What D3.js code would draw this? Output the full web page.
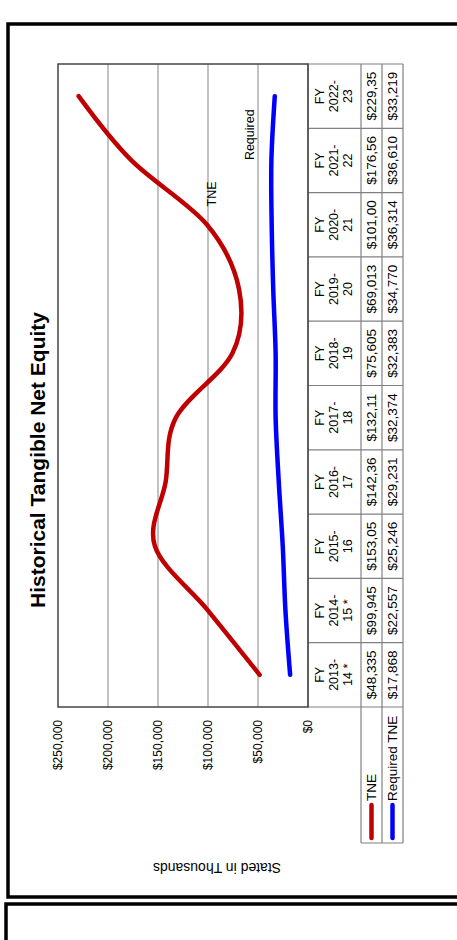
<!DOCTYPE html>
<html>
<head>
<meta charset="utf-8">
<script src="https://cdn.jsdelivr.net/npm/d3@7"></script>
<style>
  body { margin: 0; background: #fff; }
  svg { display: block; font-family: "Liberation Sans", Arial, sans-serif; }
</style>
</head>
<body>
<script>
// Fiscal years (header lines separated by \n)
const categories = [
  "FY\n2013-\n14 *", "FY\n2014-\n15 *", "FY\n2015-\n16", "FY\n2016-\n17", "FY\n2017-\n18",
  "FY\n2018-\n19", "FY\n2019-\n20", "FY\n2020-\n21", "FY\n2021-\n22", "FY\n2022-\n23"
];
// Stated in thousands
const tneValues = [48335, 99945, 153050, 142360, 132110, 75605, 69013, 101000, 176560, 229350];
const requiredValues = [17868, 22557, 25246, 29231, 32374, 32383, 34770, 36314, 36610, 33219];
const yTicks = [0, 50000, 100000, 150000, 200000, 250000];
const seriesNames = ["TNE", "Required TNE"];
const seriesLabels = ["TNE", "Required"];
const seriesColors = ["#c00000", "#0000ff"];

const W = 457, H = 940;
const svg = d3.select("body").append("svg").attr("width", W).attr("height", H);

// Page frames
svg.append("rect").attr("x", 8).attr("y", 24).attr("width", 470).attr("height", 873)
  .attr("fill", "none").attr("stroke", "#000").attr("stroke-width", 3.5);
svg.append("path").attr("d", "M6,960V904H480")
  .attr("fill", "none").attr("stroke", "#000").attr("stroke-width", 3.5);

// Axis caption, printed upside down
svg.append("text").attr("transform", "translate(217,868) rotate(180)")
  .attr("text-anchor", "middle").attr("dy", "0.35em").attr("font-size", 14)
  .text("Stated in Thousands");

// Landscape chart drawn in its own frame, turned a quarter turn
const g = svg.append("g").attr("transform", `translate(0,${H}) rotate(-90)`);

const plot = { left: 233, right: 876, top: 58, bottom: 308 };
const rows = { head: 308, tne: 361, req: 382, end: 403 };
const legendLeft = 97;

const x = d3.scaleBand().domain(categories).range([plot.left, plot.right]);
const y = d3.scaleLinear().domain([0, 250000]).range([plot.bottom, plot.top]);
const fmt = v => "$" + d3.format(",")(v);

// Title
g.append("text").attr("x", 480).attr("y", 38).attr("dy", "0.35em")
  .attr("text-anchor", "middle").attr("font-size", 21).attr("font-weight", "bold")
  .text("Historical Tangible Net Equity");

// Gridlines
g.append("g").selectAll("line").data(yTicks.filter(d => d > 0 && d < 250000)).join("line")
  .attr("x1", plot.left).attr("x2", plot.right)
  .attr("y1", d => y(d)).attr("y2", d => y(d))
  .attr("stroke", "#999").attr("stroke-width", 1.2);

// Value axis labels
const axis = g.append("g").attr("transform", `translate(${plot.left},0)`)
  .call(d3.axisLeft(y).tickValues(yTicks).tickSize(0).tickPadding(13).tickFormat(fmt));
axis.select(".domain").remove();
axis.selectAll("text").attr("font-size", 12).attr("fill", "#000")
  .attr("font-family", '"Liberation Sans", Arial, sans-serif');

// Data table
const tg = g.append("g").attr("stroke", "#808080").attr("stroke-width", 1.2);
[rows.head, rows.tne, rows.req, rows.end].forEach((r, i) => {
  tg.append("line").attr("x1", i === 0 ? plot.left : legendLeft).attr("x2", plot.right)
    .attr("y1", r).attr("y2", r);
});
tg.selectAll("line.col").data(categories.map(c => x(c)).concat([plot.right])).join("line")
  .attr("class", "col").attr("x1", d => d).attr("x2", d => d)
  .attr("y1", rows.head).attr("y2", rows.end);
tg.append("line").attr("x1", legendLeft).attr("x2", legendLeft).attr("y1", rows.tne).attr("y2", rows.end);

// Plot frame
g.append("rect").attr("x", plot.left).attr("y", plot.top)
  .attr("width", plot.right - plot.left).attr("height", plot.bottom - plot.top)
  .attr("fill", "none").attr("stroke", "#444").attr("stroke-width", 1.5);

// Category headers
const heads = g.append("g").attr("font-size", 12.5).attr("text-anchor", "middle");
categories.forEach(c => {
  c.split("\n").forEach((line, i) => {
    heads.append("text").attr("x", x(c) + x.bandwidth() / 2).attr("y", 320 + i * 14)
      .attr("dy", "0.35em").text(line);
  });
});

// Table values; the narrow cells clip at seven characters
const cellText = v => fmt(v).slice(0, 7);
[[tneValues, (rows.tne + rows.req) / 2], [requiredValues, (rows.req + rows.end) / 2]].forEach(([vals, cy]) => {
  g.append("g").attr("font-size", 13.5).attr("text-anchor", "middle")
    .selectAll("text").data(vals).join("text")
    .attr("x", (d, i) => x(categories[i]) + x.bandwidth() / 2).attr("y", cy)
    .attr("dy", "0.35em").text(cellText);
});

// Legend keys inside the table
[(rows.tne + rows.req) / 2, (rows.req + rows.end) / 2].forEach((cy, i) => {
  g.append("line").attr("x1", 102).attr("x2", 135).attr("y1", cy).attr("y2", cy)
    .attr("stroke", seriesColors[i]).attr("stroke-width", 4.5).attr("stroke-linecap", "round");
  g.append("text").attr("x", 139).attr("y", cy).attr("dy", "0.35em")
    .attr("font-size", 13.5).text(seriesNames[i]);
});

// Smoothed series lines
const line = d3.line()
  .x((d, i) => x(categories[i]) + x.bandwidth() / 2)
  .y(d => y(d))
  .curve(d3.curveCatmullRom.alpha(0));
[tneValues, requiredValues].forEach((vals, i) => {
  g.append("path").datum(vals).attr("d", line)
    .attr("fill", "none").attr("stroke", seriesColors[i])
    .attr("stroke-width", 4.5).attr("stroke-linecap", "round");
});

// Series name labels near their lines
g.append("text").attr("x", x(categories[7]) + x.bandwidth() * 0.98).attr("y", y(96000))
  .attr("dy", "0.35em").attr("text-anchor", "middle").attr("font-size", 12.5).text(seriesLabels[0]);
g.append("text").attr("x", x(categories[9]) - x.bandwidth() * 0.1).attr("y", y(58000))
  .attr("dy", "0.35em").attr("text-anchor", "middle").attr("font-size", 12.5).text(seriesLabels[1]);
</script>
</body>
</html>
